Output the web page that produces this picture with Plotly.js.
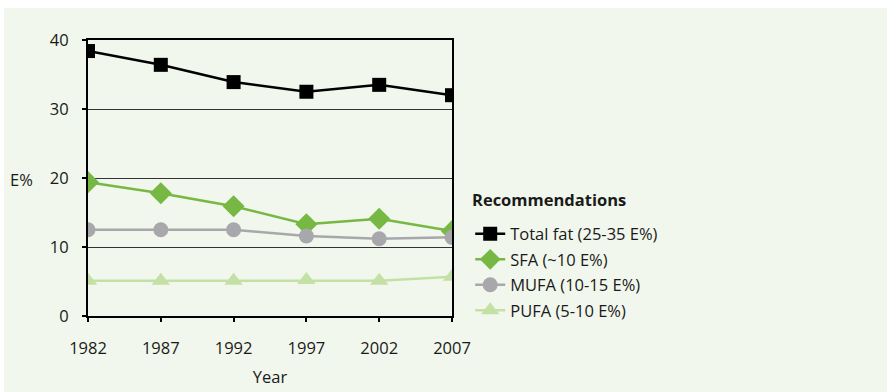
<!DOCTYPE html>
<html>
<head>
<meta charset="utf-8">
<script src="https://cdn.plot.ly/plotly-3.0.1.min.js"></script>
<style>
html,body{margin:0;padding:0;background:#ffffff;}
#chart{position:absolute;left:4px;top:8px;width:883px;height:384px;}
</style>
</head>
<body>
<div id="chart"></div>
<script>
const years = [1982, 1987, 1992, 1997, 2002, 2007];
const totalFat = [38.4, 36.4, 33.9, 32.5, 33.5, 32.0];
const sfa = [19.4, 17.8, 15.9, 13.3, 14.1, 12.3];
const mufa = [12.5, 12.5, 12.5, 11.6, 11.2, 11.4];
const pufa = [5.1, 5.1, 5.1, 5.2, 5.1, 5.7];
const seriesNames = ['Total fat (25-35 E%)', 'SFA (~10 E%)', 'MUFA (10-15 E%)', 'PUFA (5-10 E%)'];
const yTicks = [0, 10, 20, 30, 40];

const font = '"Open Sans", "Noto Sans", sans-serif';
const fs = 16.5;

const traces = [
  {x: years, y: totalFat, name: seriesNames[0], legendgroup: 'a', mode: 'lines+markers',
   line: {color: '#000000', width: 2.5}, marker: {symbol: 'square', size: 14, color: '#000000'}},
  {x: years, y: sfa, name: seriesNames[1], legendgroup: 'b', mode: 'lines+markers',
   line: {color: '#76b843', width: 2.5}, marker: {symbol: 'diamond', size: 17, color: '#76b843'}},
  {x: years, y: mufa, name: seriesNames[2], legendgroup: 'c', mode: 'lines+markers',
   line: {color: '#a8a8ac', width: 2.5}, marker: {symbol: 'circle', size: 15, color: '#a8a8ac'}},
  {x: years, y: pufa, name: seriesNames[3], legendgroup: 'd', mode: 'lines+markers',
   line: {color: '#c3e1a5', width: 2.5}, marker: {symbol: 'triangle-up', size: 16, color: '#c3e1a5'}}
];

const layout = {
  width: 883, height: 384,
  paper_bgcolor: '#f1f7ec', plot_bgcolor: 'rgba(0,0,0,0)',
  margin: {l: 84, r: 435, t: 32, b: 76},
  font: {family: font, size: fs, color: '#1a1a1a'},
  showlegend: true,
  xaxis: {
    range: [1982, 2007], tickvals: years, ticktext: years.map(String),
    showgrid: false, zeroline: false, showline: true, mirror: true,
    linecolor: '#000000', linewidth: 2,
    ticks: 'outside', ticklen: 4, tickcolor: '#000000', tickwidth: 2,
    ticklabelstandoff: 12,
    tickfont: {size: fs, color: '#1a1a1a'},
    title: {text: 'Year', font: {size: fs, color: '#1a1a1a'}, standoff: 14}
  },
  yaxis: {
    range: [0, 40], tickvals: yTicks, ticktext: yTicks.map(String),
    showgrid: true, gridcolor: '#333333', gridwidth: 1,
    zeroline: false, showline: true, mirror: true,
    linecolor: '#000000', linewidth: 2,
    ticks: 'outside', ticklen: 4, tickcolor: '#000000', tickwidth: 2,
    ticklabelstandoff: 10,
    tickfont: {size: fs, color: '#1a1a1a'}
  },
  legend: {
    x: 1.05, xanchor: 'left', y: 0.36, yanchor: 'top',
    bgcolor: 'rgba(0,0,0,0)', traceorder: 'grouped', tracegroupgap: 1,
    font: {size: fs, color: '#1a1a1a'}
  },
  annotations: [
    {text: 'E%', xref: 'paper', yref: 'paper', x: -0.184, y: 0.495, xanchor: 'center', yanchor: 'middle',
     showarrow: false, font: {size: fs, color: '#1a1a1a'}},
    {text: '<b>Recommendations</b>', xref: 'paper', yref: 'paper', x: 1.049, y: 0.421, xanchor: 'left', yanchor: 'middle',
     showarrow: false, font: {size: fs, color: '#1a1a1a'}}
  ]
};

Plotly.newPlot('chart', traces, layout, {displayModeBar: false, staticPlot: true});
</script>
</body>
</html>
